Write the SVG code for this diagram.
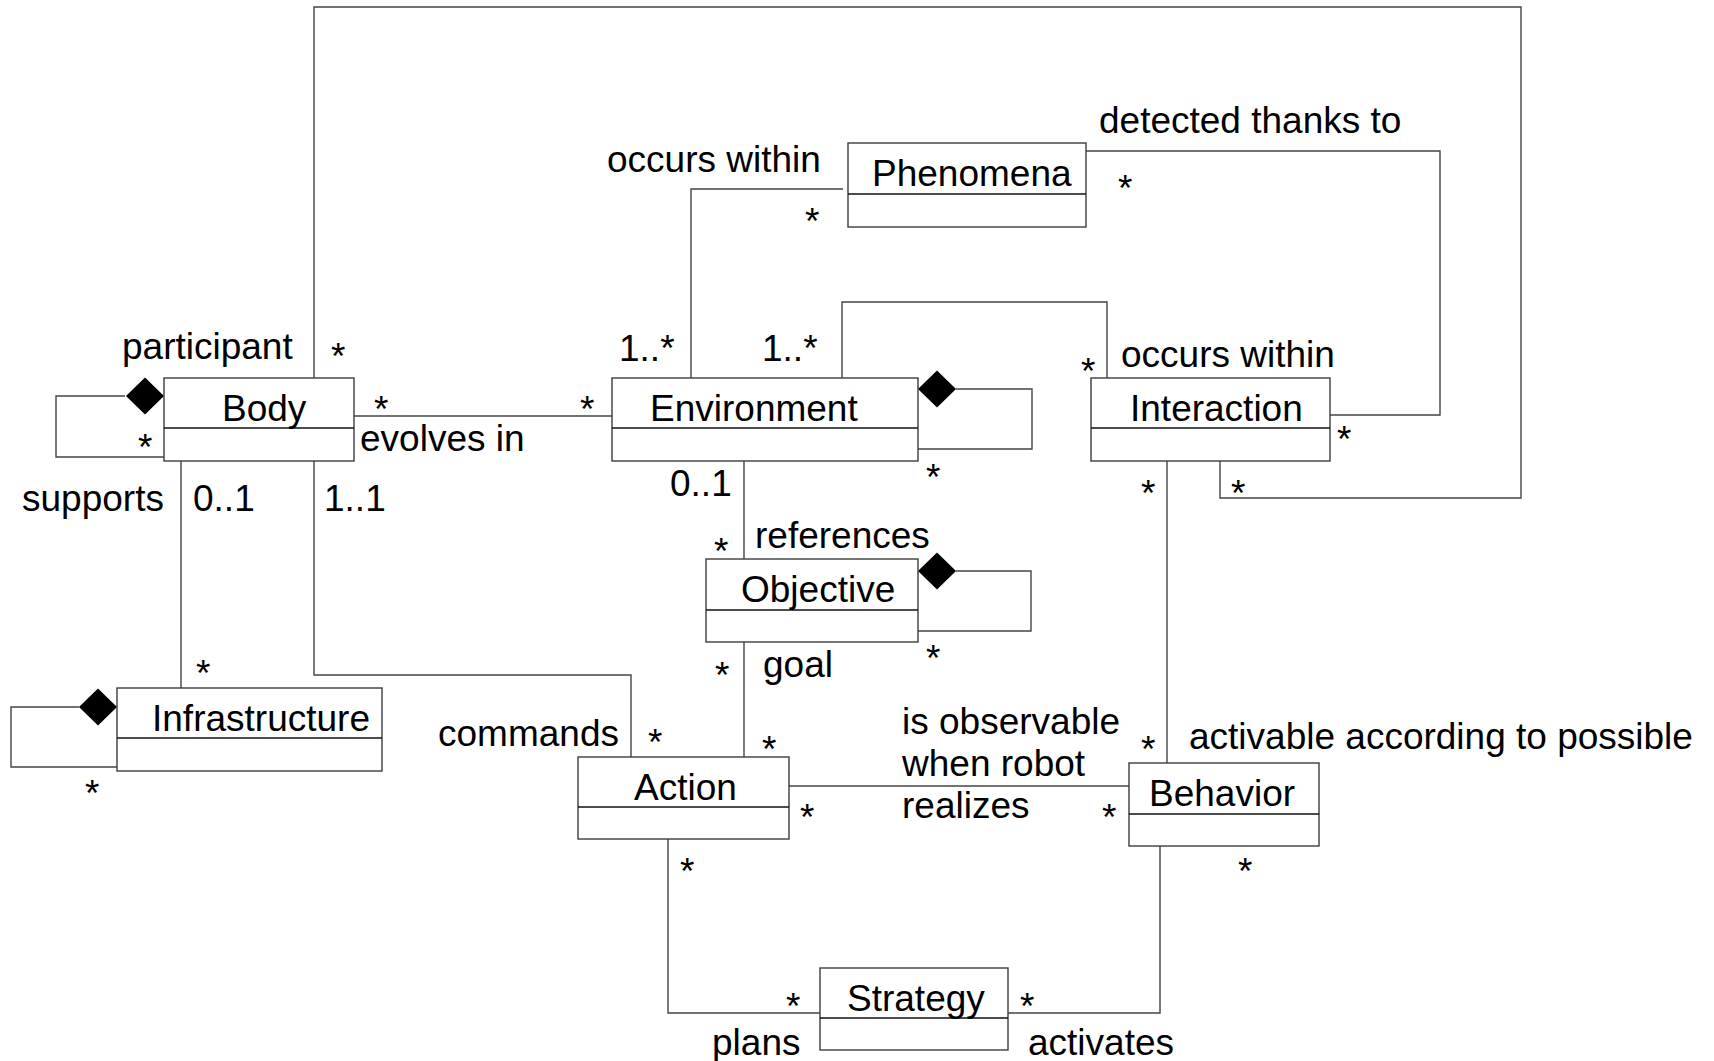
<svg xmlns="http://www.w3.org/2000/svg" width="1714" height="1061" viewBox="0 0 1714 1061">
  <style>
    .box { fill: #ffffff; stroke: #3c3c3c; stroke-width: 1.4; }
    .sep { stroke: #111111; stroke-width: 1.4; }
    .conn { fill: none; stroke: #444444; stroke-width: 1.4; }
    .dia { fill: #000000; stroke: none; }
    text { font-family: "Liberation Sans", Arial, sans-serif; font-size: 37px; fill: #000000; }
  </style>
  <defs>
    <!-- composition diamond, centred on its own origin -->
    <polygon id="diamond" class="dia" points="-19,0 0,-18.5 19,0 0,18.5"/>
  </defs>
  <rect width="1714" height="1061" fill="#ffffff"/>

  <!-- associations -->
  <g id="connectors">
    <path class="conn" d="M314,378 V7 H1521 V498 H1220 V461"/>
    <path class="conn" d="M125,396 H56 V457 H164"/>
    <use href="#diamond" x="145" y="396"/>
    <path class="conn" d="M354,416 H612"/>
    <path class="conn" d="M181,461 V688"/>
    <path class="conn" d="M314,461 V675 H631 V757"/>
    <path class="conn" d="M691,378 V189 H843"/>
    <path class="conn" d="M842,378 V302 H1107 V378"/>
    <path class="conn" d="M956,389 H1032 V449 H918"/>
    <use href="#diamond" x="937" y="389"/>
    <path class="conn" d="M1086,151 H1440 V415 H1330"/>
    <path class="conn" d="M744,461 V559"/>
    <path class="conn" d="M956,571 H1031 V631 H918"/>
    <use href="#diamond" x="937" y="571"/>
    <path class="conn" d="M744,642 V757"/>
    <path class="conn" d="M789,786 H1129"/>
    <path class="conn" d="M1167,461 V763"/>
    <path class="conn" d="M668,839 V1013 H820"/>
    <path class="conn" d="M1008,1013 H1160 V846"/>
    <path class="conn" d="M79,707 H11 V767 H117"/>
    <use href="#diamond" x="98" y="707"/>
  </g>

  <!-- classes -->
  <g id="body">
    <rect class="box" x="164" y="378" width="190" height="83"/>
    <line class="sep" x1="164" y1="428" x2="354" y2="428"/>
    <text x="222" y="421">Body</text>
  </g>
  <g id="environment">
    <rect class="box" x="612" y="378" width="306" height="83"/>
    <line class="sep" x1="612" y1="428" x2="918" y2="428"/>
    <text x="650" y="421">Environment</text>
  </g>
  <g id="interaction">
    <rect class="box" x="1091" y="378" width="239" height="83"/>
    <line class="sep" x1="1091" y1="428" x2="1330" y2="428"/>
    <text x="1130" y="421">Interaction</text>
  </g>
  <g id="phenomena">
    <rect class="box" x="848" y="143" width="238" height="84"/>
    <line class="sep" x1="848" y1="194" x2="1086" y2="194"/>
    <text x="872" y="186">Phenomena</text>
  </g>
  <g id="objective">
    <rect class="box" x="706" y="559" width="212" height="83"/>
    <line class="sep" x1="706" y1="610" x2="918" y2="610"/>
    <text x="741" y="602">Objective</text>
  </g>
  <g id="infrastructure">
    <rect class="box" x="117" y="688" width="265" height="83"/>
    <line class="sep" x1="117" y1="738" x2="382" y2="738"/>
    <text x="152" y="731">Infrastructure</text>
  </g>
  <g id="action">
    <rect class="box" x="578" y="757" width="211" height="82"/>
    <line class="sep" x1="578" y1="807" x2="789" y2="807"/>
    <text x="634" y="800">Action</text>
  </g>
  <g id="behavior">
    <rect class="box" x="1129" y="763" width="190" height="83"/>
    <line class="sep" x1="1129" y1="814" x2="1319" y2="814"/>
    <text x="1149" y="806">Behavior</text>
  </g>
  <g id="strategy">
    <rect class="box" x="820" y="968" width="188" height="82"/>
    <line class="sep" x1="820" y1="1018" x2="1008" y2="1018"/>
    <text x="847" y="1011">Strategy</text>
  </g>

  <!-- role names and multiplicities -->
  <g id="labels">
    <text x="122" y="359">participant</text>
    <text x="360" y="451">evolves in</text>
    <text x="22" y="511">supports</text>
    <text x="193" y="511">0..1</text>
    <text x="324" y="511">1..1</text>
    <text x="607" y="172">occurs within</text>
    <text x="619" y="361">1..*</text>
    <text x="762" y="361">1..*</text>
    <text x="1099" y="133">detected thanks to</text>
    <text x="1121" y="367">occurs within</text>
    <text x="670" y="496">0..1</text>
    <text x="755" y="548">references</text>
    <text x="763" y="677">goal</text>
    <text x="438" y="746">commands</text>
    <text x="902" y="734">is observable</text>
    <text x="902" y="776">when robot</text>
    <text x="902" y="818">realizes</text>
    <text x="1189" y="749">activable according to possible</text>
    <text x="712" y="1055">plans</text>
    <text x="1028" y="1055">activates</text>

    <text x="331" y="369">*</text>
    <text x="138" y="460">*</text>
    <text x="374" y="422">*</text>
    <text x="580" y="422">*</text>
    <text x="805" y="234">*</text>
    <text x="1118" y="201">*</text>
    <text x="1081" y="384">*</text>
    <text x="1337" y="452">*</text>
    <text x="926" y="490">*</text>
    <text x="1141" y="506">*</text>
    <text x="1231" y="506">*</text>
    <text x="714" y="564">*</text>
    <text x="926" y="671">*</text>
    <text x="715" y="688">*</text>
    <text x="762" y="762">*</text>
    <text x="196" y="686">*</text>
    <text x="85" y="806">*</text>
    <text x="648" y="755">*</text>
    <text x="800" y="830">*</text>
    <text x="1102" y="830">*</text>
    <text x="1141" y="762">*</text>
    <text x="680" y="884">*</text>
    <text x="1238" y="884">*</text>
    <text x="786" y="1019">*</text>
    <text x="1020" y="1019">*</text>
  </g>
</svg>
